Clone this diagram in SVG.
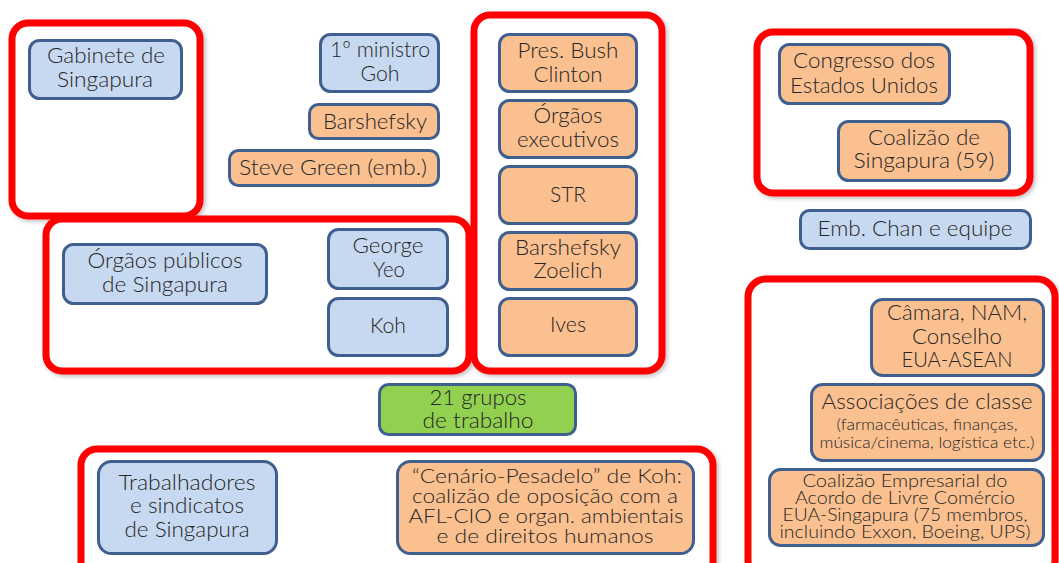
<svg xmlns="http://www.w3.org/2000/svg" width="1059" height="563" viewBox="0 0 1059 563">
  <style>
    .frame { fill: #ffffff; stroke: #ff0000; stroke-width: 7; filter: url(#shadow); }
    .node { stroke: #3f5f8f; stroke-width: 3; }
    .blue { fill: #c6d9f1; }
    .orange { fill: #fac090; }
    .green { fill: #92d050; }
    text { font-family: Lato, "Open Sans", "Liberation Sans", sans-serif; font-weight: 300; fill: #262626; text-anchor: middle; font-size: 22px; }
    .sm { font-size: 15px; }
    .md { font-size: 17px; }
    .cn { font-size: 20px; }
  </style>
  <defs>
    <filter id="shadow" x="-5%" y="-5%" width="110%" height="110%">
      <feDropShadow dx="2" dy="2" stdDeviation="2" flood-color="#000" flood-opacity="0.25"/>
    </filter>
  </defs>
  <rect width="1059" height="563" fill="#ffffff"/>

  <!-- grouping frames -->
  <g id="frames">
    <rect class="frame" x="12" y="23" width="188" height="193" rx="16"/>
    <rect class="frame" x="46" y="219" width="423" height="152" rx="16"/>
    <rect class="frame" x="474" y="15" width="188" height="356" rx="16"/>
    <rect class="frame" x="757" y="32" width="273" height="161" rx="16"/>
    <rect class="frame" x="748" y="279" width="307" height="300" rx="18"/>
    <rect class="frame" x="81" y="449" width="632" height="130" rx="16"/>
  </g>

  <!-- no connectors are drawn between nodes -->
  <g id="connectors"/>

  <g id="gabinete">
    <rect class="node blue" x="29.5" y="40.5" width="152" height="58" rx="10"/>
    <text x="106" y="63" textLength="118" lengthAdjust="spacingAndGlyphs">Gabinete de</text>
    <text x="105" y="87" textLength="96" lengthAdjust="spacingAndGlyphs">Singapura</text>
  </g>
  <g id="ministro-goh">
    <rect class="node blue" x="320.5" y="34.5" width="118" height="57" rx="10"/>
    <text x="380" y="57" textLength="100" lengthAdjust="spacingAndGlyphs">1º ministro</text>
    <text x="380" y="81" textLength="39" lengthAdjust="spacingAndGlyphs">Goh</text>
  </g>
  <g id="barshefsky">
    <rect class="node orange" x="309.5" y="104.5" width="129" height="34" rx="9"/>
    <text x="375" y="129" textLength="104" lengthAdjust="spacingAndGlyphs">Barshefsky</text>
  </g>
  <g id="steve-green">
    <rect class="node orange" x="229.5" y="150.5" width="209" height="35" rx="9"/>
    <text x="333" y="175" textLength="188" lengthAdjust="spacingAndGlyphs">Steve Green (emb.)</text>
  </g>

  <g id="orgaos-publicos">
    <rect class="node blue" x="63.5" y="244.5" width="203" height="59" rx="10"/>
    <text x="165" y="268" textLength="155" lengthAdjust="spacingAndGlyphs">Órgãos públicos</text>
    <text x="165" y="292" textLength="126" lengthAdjust="spacingAndGlyphs">de Singapura</text>
  </g>
  <g id="george-yeo">
    <rect class="node blue" x="328.5" y="229.5" width="119" height="59" rx="10"/>
    <text x="388" y="253" textLength="71" lengthAdjust="spacingAndGlyphs">George</text>
    <text x="389" y="277" textLength="32" lengthAdjust="spacingAndGlyphs">Yeo</text>
  </g>
  <g id="koh">
    <rect class="node blue" x="328.5" y="298.5" width="119" height="57" rx="10"/>
    <text x="388" y="333" textLength="36" lengthAdjust="spacingAndGlyphs">Koh</text>
  </g>

  <g id="pres-bush-clinton">
    <rect class="node orange" x="499.5" y="34.5" width="137" height="57" rx="10"/>
    <text x="568" y="58" textLength="101" lengthAdjust="spacingAndGlyphs">Pres. Bush</text>
    <text x="568" y="82" textLength="69" lengthAdjust="spacingAndGlyphs">Clinton</text>
  </g>
  <g id="orgaos-executivos">
    <rect class="node orange" x="499.5" y="100.5" width="137" height="57" rx="10"/>
    <text x="568" y="123" textLength="69" lengthAdjust="spacingAndGlyphs">Órgãos</text>
    <text x="568" y="147" textLength="102" lengthAdjust="spacingAndGlyphs">executivos</text>
  </g>
  <g id="str">
    <rect class="node orange" x="499.5" y="166.5" width="137" height="57" rx="10"/>
    <text x="568" y="202" textLength="36" lengthAdjust="spacingAndGlyphs">STR</text>
  </g>
  <g id="barshefsky-zoelich">
    <rect class="node orange" x="499.5" y="232.5" width="137" height="57" rx="10"/>
    <text x="568" y="255" textLength="106" lengthAdjust="spacingAndGlyphs">Barshefsky</text>
    <text x="568" y="278" textLength="69" lengthAdjust="spacingAndGlyphs">Zoelich</text>
  </g>
  <g id="ives">
    <rect class="node orange" x="499.5" y="298.5" width="137" height="57" rx="10"/>
    <text x="568" y="332" textLength="36" lengthAdjust="spacingAndGlyphs">Ives</text>
  </g>

  <g id="congresso">
    <rect class="node orange" x="779.5" y="44.5" width="170" height="59" rx="10"/>
    <text x="864" y="68" textLength="142" lengthAdjust="spacingAndGlyphs">Congresso dos</text>
    <text x="864" y="93" textLength="148" lengthAdjust="spacingAndGlyphs">Estados Unidos</text>
  </g>
  <g id="coalizao-singapura">
    <rect class="node orange" x="838.5" y="121.5" width="171" height="59" rx="10"/>
    <text x="924" y="145" textLength="112" lengthAdjust="spacingAndGlyphs">Coalizão de</text>
    <text x="924" y="168" textLength="141" lengthAdjust="spacingAndGlyphs">Singapura (59)</text>
  </g>
  <g id="emb-chan">
    <rect class="node blue" x="800.5" y="210.5" width="230" height="38" rx="9"/>
    <text x="915" y="236" textLength="195" lengthAdjust="spacingAndGlyphs">Emb. Chan e equipe</text>
  </g>

  <g id="camara-nam">
    <rect class="node orange" x="871.5" y="299.5" width="172" height="76" rx="11"/>
    <text x="957" y="320" textLength="140" lengthAdjust="spacingAndGlyphs">Câmara, NAM,</text>
    <text x="957" y="344" textLength="90" lengthAdjust="spacingAndGlyphs">Conselho</text>
    <text x="957" y="367" textLength="111" lengthAdjust="spacingAndGlyphs">EUA-ASEAN</text>
  </g>
  <g id="associacoes">
    <rect class="node orange" x="811.5" y="384.5" width="232" height="76" rx="11"/>
    <text x="927" y="409" textLength="211" lengthAdjust="spacingAndGlyphs">Associações de classe</text>
    <text class="sm" x="927" y="430" textLength="181" lengthAdjust="spacingAndGlyphs">(farmacêuticas, finanças,</text>
    <text class="sm" x="927" y="448" textLength="215" lengthAdjust="spacingAndGlyphs">música/cinema, logística etc.)</text>
  </g>
  <g id="coalizao-empresarial">
    <rect class="node orange" x="769.5" y="469.5" width="274" height="76" rx="11"/>
    <text class="md" x="905" y="487" textLength="205" lengthAdjust="spacingAndGlyphs">Coalizão Empresarial do</text>
    <text class="md" x="905" y="504" textLength="220" lengthAdjust="spacingAndGlyphs">Acordo de Livre Comércio</text>
    <text class="md" x="905" y="521" textLength="245" lengthAdjust="spacingAndGlyphs">EUA-Singapura (75 membros,</text>
    <text class="md" x="905" y="538" textLength="251" lengthAdjust="spacingAndGlyphs">incluindo Exxon, Boeing, UPS)</text>
  </g>

  <g id="grupos-trabalho">
    <rect class="node green" x="379.5" y="384.5" width="196" height="50" rx="9"/>
    <text x="478" y="405" textLength="97" lengthAdjust="spacingAndGlyphs">21 grupos</text>
    <text x="478" y="428" textLength="111" lengthAdjust="spacingAndGlyphs">de trabalho</text>
  </g>

  <g id="trabalhadores">
    <rect class="node blue" x="98.5" y="461.5" width="178" height="92" rx="13"/>
    <text x="187" y="490" textLength="137" lengthAdjust="spacingAndGlyphs">Trabalhadores</text>
    <text x="187" y="513" textLength="114" lengthAdjust="spacingAndGlyphs">e sindicatos</text>
    <text x="187" y="537" textLength="125" lengthAdjust="spacingAndGlyphs">de Singapura</text>
  </g>
  <g id="cenario-pesadelo">
    <rect class="node orange" x="397.5" y="461.5" width="296" height="92" rx="13"/>
    <text class="cn" x="547" y="483" textLength="270" lengthAdjust="spacingAndGlyphs">“Cenário-Pesadelo” de Koh:</text>
    <text class="cn" x="545" y="503" textLength="266" lengthAdjust="spacingAndGlyphs">coalizão de oposição com a</text>
    <text class="cn" x="546" y="523" textLength="275" lengthAdjust="spacingAndGlyphs">AFL-CIO e organ. ambientais</text>
    <text class="cn" x="545" y="543" textLength="217" lengthAdjust="spacingAndGlyphs">e de direitos humanos</text>
  </g>
</svg>
